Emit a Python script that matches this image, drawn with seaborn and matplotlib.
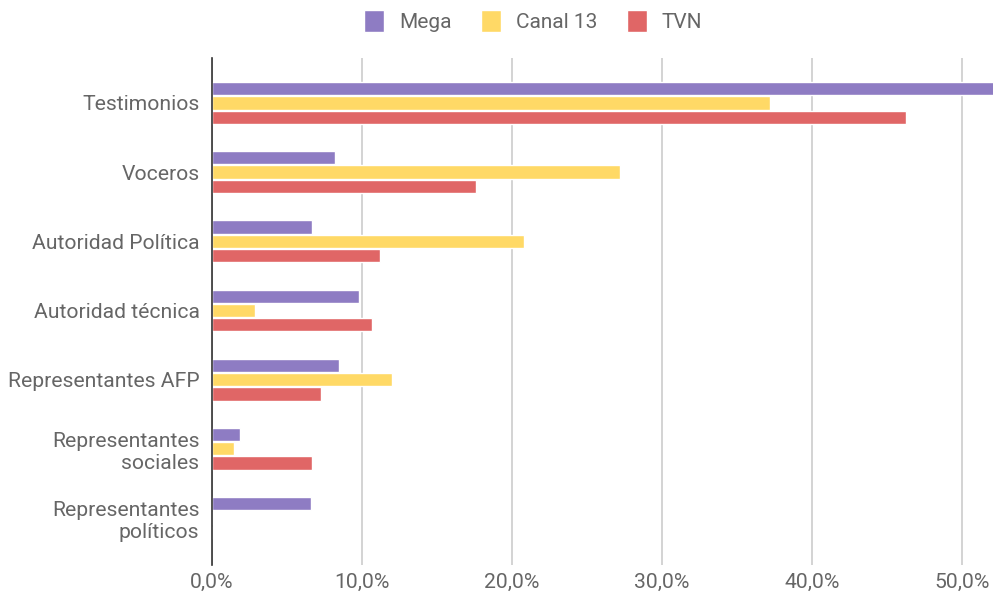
import pandas as pd
import matplotlib.pyplot as plt
import seaborn as sns

categorias = ['Testimonios', 'Voceros', 'Autoridad Política', 'Autoridad técnica',
              'Representantes AFP', 'Representantes\nsociales', 'Representantes\npolíticos']
canales = ['Mega', 'Canal 13', 'TVN']
mega = [55.0, 8.2, 6.7, 9.8, 8.5, 1.9, 6.6]
canal13 = [37.2, 27.2, 20.8, 2.9, 12.0, 1.5, 0.0]
tvn = [46.3, 17.6, 11.2, 10.7, 7.3, 6.7, 0.0]
colores = ['#8e7cc3', '#ffd966', '#e06666']
ticks = [0, 10, 20, 30, 40, 50]

filas = []
for serie, valores in zip(canales, [mega, canal13, tvn]):
    for cat, v in zip(categorias, valores):
        filas.append({'categoria': cat, 'canal': serie, 'valor': v})
df = pd.DataFrame(filas)

sns.set_theme(style='white')
plt.rcParams['font.family'] = ['Roboto', 'DejaVu Sans']

fig = plt.figure(figsize=(9.93, 5.98), dpi=100)
ax = fig.add_axes([212 / 993, 1 - 565 / 598, 781 / 993, 507 / 598])

sns.barplot(data=df, y='categoria', x='valor', hue='canal', orient='h',
            palette=colores, width=0.62, gap=0.07, ax=ax, saturation=1,
            order=categorias, hue_order=canales, legend=True)

ax.set_xlim(0, 52.07)
ax.set_ylim(6.68, -0.65)
ax.set_xticks(ticks)
ax.set_xticklabels([f'{t},0%' for t in ticks])
ax.xaxis.grid(True, color='#cccccc', linewidth=1.2)
ax.set_axisbelow(True)
ax.set_xlabel('')
ax.set_ylabel('')
for s in ['top', 'right', 'bottom']:
    ax.spines[s].set_visible(False)
ax.spines['left'].set_color('#333333')
ax.spines['left'].set_linewidth(1.2)
ax.tick_params(axis='both', length=0, labelsize=15.2, labelcolor='#666666')
ax.tick_params(axis='x', pad=6)
ax.tick_params(axis='y', pad=9)

handles, labels = ax.get_legend_handles_labels()
ax.get_legend().remove()
fig.legend(handles, labels, loc='center', bbox_to_anchor=(533 / 993, 1 - 21 / 598),
           ncol=3, frameon=False, fontsize=15, handlelength=1.0, handleheight=1.3,
           columnspacing=1.4, handletextpad=0.7, labelcolor='#666666')

fig.savefig('out.png', dpi=100)
